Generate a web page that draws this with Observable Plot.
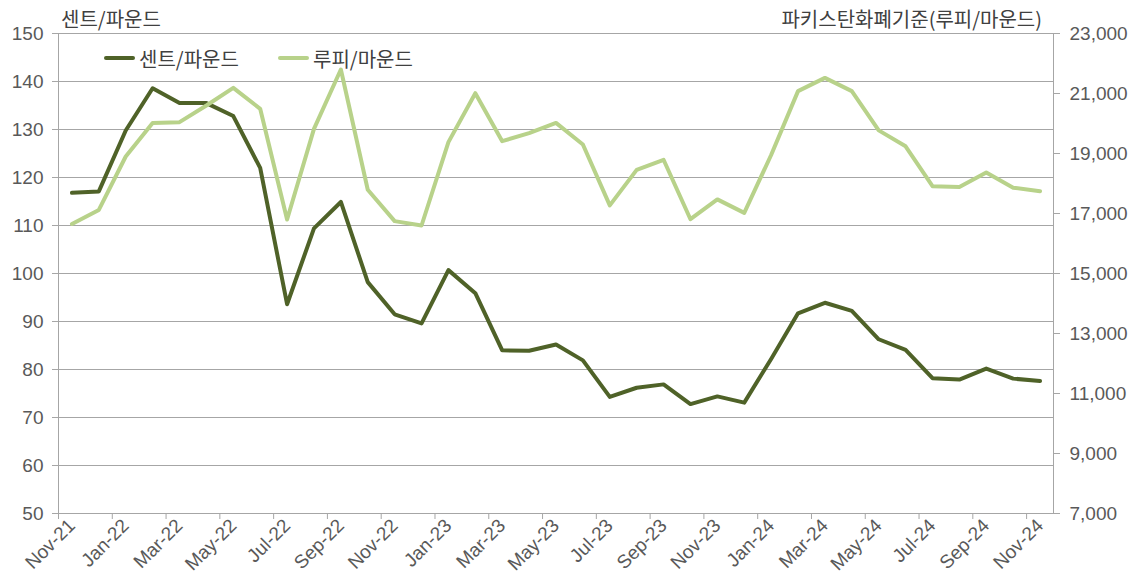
<!DOCTYPE html>
<html><head><meta charset="utf-8">
<script src="https://cdn.jsdelivr.net/npm/d3@7"></script>
<script src="https://cdn.jsdelivr.net/npm/@observablehq/plot@0.6"></script>
<style>
body{margin:0;background:#fff;}
#wrap{position:relative;width:1138px;height:582px;font-family:"Liberation Sans",Arial,"Noto Sans CJK KR",sans-serif;}
.t{position:absolute;color:#404040;font-size:20px;line-height:30px;white-space:nowrap;font-family:"Noto Sans CJK KR","Liberation Sans",sans-serif;}
.lg{position:absolute;top:43px;height:30px;display:flex;align-items:center;font-size:20px;color:#404040;white-space:nowrap;font-family:"Noto Sans CJK KR",sans-serif;}
.sw{display:inline-block;width:31px;height:4px;border-radius:2px;margin-right:4px;}
</style></head><body>
<div id="wrap"></div>
<script>
const months = ["Nov-21","Dec-21","Jan-22","Feb-22","Mar-22","Apr-22","May-22","Jun-22","Jul-22","Aug-22","Sep-22","Oct-22",
"Nov-22","Dec-22","Jan-23","Feb-23","Mar-23","Apr-23","May-23","Jun-23","Jul-23","Aug-23","Sep-23","Oct-23",
"Nov-23","Dec-23","Jan-24","Feb-24","Mar-24","Apr-24","May-24","Jun-24","Jul-24","Aug-24","Sep-24","Oct-24","Nov-24"];
const centsPerPound = [116.8,117.1,129.8,138.6,135.5,135.5,132.8,122.0,93.6,109.4,114.9,98.2,
91.5,89.6,100.7,95.9,84.0,83.9,85.2,81.9,74.3,76.2,76.9,72.8,
74.4,73.1,82.2,91.7,93.9,92.2,86.3,84.1,78.2,77.9,80.2,78.1,77.6];
const rupeesPerMaund = [16650,17120,18900,20020,20045,20600,21190,20490,16800,19820,21800,17790,
16745,16600,19380,21010,19410,19680,20020,19300,17270,18455,18790,16810,
17470,17020,18950,21080,21520,21080,19770,19240,17910,17880,18370,17860,17745];
const seriesNames = ["센트/파운드","루피/마운드"];
const seriesColors = ["#4f6228","#b8d28a"];
const leftTitle = "센트/파운드";
const rightTitle = "파키스탄화폐기준(루피/마운드)";
const leftTicks = [50,60,70,80,90,100,110,120,130,140,150];
const rightTicks = [7000,9000,11000,13000,15000,17000,19000,21000,23000];

const toLeft = d3.scaleLinear([7000,23000],[50,150]);
const fmt = d3.format(",");

const rows = [
  ...centsPerPound.map((v,i)=>({i, y:v, s:seriesNames[0]})),
  ...rupeesPerMaund.map((v,i)=>({i, y:toLeft(v), s:seriesNames[1]}))
];
const labelIdx = months.map((m,i)=>i).filter(i=>i%2===0);
const boundaries = labelIdx.map(i=>i-0.5);

const chart = Plot.plot({
  width:1138, height:582,
  marginTop:33, marginBottom:69, marginLeft:58, marginRight:85,
  style:{fontFamily:'"Liberation Sans",Arial,sans-serif', fontSize:"18px", color:"#595959", background:"#fff", overflow:"visible"},
  x:{type:"linear", domain:[-0.5, months.length-0.5], axis:null},
  y:{domain:[50,150], axis:null},
  color:{domain:seriesNames, range:seriesColors},
  marks:[
    Plot.gridY(leftTicks, {stroke:"#a6a6a6", strokeOpacity:1, strokeWidth:1}),
    Plot.frame({stroke:"#a6a6a6"}),
    Plot.axisY(leftTicks, {anchor:"left", label:null, tickSize:6, tickPadding:9, stroke:"#a6a6a6", fill:"#595959", fontSize:19}),
    Plot.axisY(rightTicks.map(toLeft), {anchor:"right", label:null, tickSize:6, tickPadding:10, stroke:"#a6a6a6", fill:"#595959", fontSize:19,
      tickFormat:d=>fmt(Math.round(toLeft.invert(d)))}),
    Plot.axisX(boundaries, {anchor:"bottom", label:null, tickSize:6, stroke:"#a6a6a6", tickFormat:()=>""}),
    Plot.axisX(labelIdx, {anchor:"bottom", label:null, tickSize:0, tickPadding:9, tickRotate:-45, fill:"#595959", fontSize:19,
      tickFormat:i=>months[i]}),
    Plot.line(rows, {x:"i", y:"y", z:"s", stroke:"s", strokeWidth:4, strokeLinejoin:"round", strokeLinecap:"round"})
  ]
});
const wrap = document.getElementById("wrap");
wrap.appendChild(chart);

const lt = document.createElement("div");
lt.className="t"; lt.textContent=leftTitle; lt.style.left="61px"; lt.style.top="4px";
wrap.appendChild(lt);
const rt = document.createElement("div");
rt.className="t"; rt.textContent=rightTitle; rt.style.right="96px"; rt.style.top="4px";
wrap.appendChild(rt);

const lgPos = [104, 278];
seriesNames.forEach((n,k)=>{
  const d = document.createElement("div");
  d.className="lg"; d.style.left=lgPos[k]+"px";
  const sw = document.createElement("span"); sw.className="sw"; sw.style.background=seriesColors[k];
  d.appendChild(sw);
  d.appendChild(document.createTextNode(n));
  wrap.appendChild(d);
});
</script>
</body></html>
